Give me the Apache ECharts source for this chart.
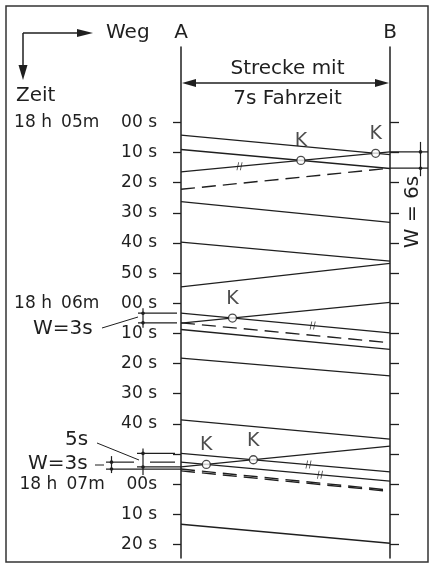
<!DOCTYPE html>
<html><head><meta charset="utf-8">
<script src="https://cdn.jsdelivr.net/npm/echarts@6.0.0/dist/echarts.min.js"></script>
<style>html,body{margin:0;padding:0;background:#fff}#c{width:433px;height:565px}</style>
</head><body><div id="c"></div>
<script>
// Stations (x positions 0 = A, 1 = B)
const stations = ['A', 'B'];
// time ticks (seconds after 18:05:00)
const tickTimes = [0,10,20,30,40,50,60,70,80,90,100,110,120,130,140];
const labelTimes = [0,10,20,30,40,50,60,70,80,90,100,120,130,140];
const labelTexts = ['18 h  05m  00 s','10 s','20 s','30 s','40 s','50 s','18 h  06m  00 s','10 s','20 s','30 s','40 s','18 h  07m  00s','10 s','20 s'];
// trains: [time at A, time at B] in seconds
const solidTrains = [
  [4.2, 10.7], [9.0, 15.3], [16.4, 9.8], [26.3, 33.2], [39.7, 46.0], [54.6, 46.8],
  [66.6, 59.7], [63.3, 69.8], [68.7, 75.3], [78.2, 84.1], [98.7, 105.1],
  [114.3, 107.4], [109.8, 115.9], [112.7, 119.0], [133.3, 139.6]
];
const dashedTrains = [[22.2, 15.2], [66.5, 73.1], [115.0, 122.0], [115.6, 122.4]];
// crossings (K) between solid trains [i, j]
const crossings = [[0, 2], [1, 2], [7, 6], [12, 11], [13, 11]];
// hash marks: [solid train index, fraction of way A->B]
const hashMarks = [[2, 0.28], [7, 0.63], [12, 0.61], [13, 0.665]];

const INK = '#1f1f1f';
const FONT = 'DejaVu Sans';

function tAt(tr, x) { return tr[0] + (tr[1] - tr[0]) * x; }
function cross(a, b) {
  const x = (b[0] - a[0]) / ((a[1] - a[0]) - (b[1] - b[0]));
  return [x, tAt(a, x)];
}

const series = [];
solidTrains.forEach(tr => series.push({
  type: 'line', data: [[0, tr[0]], [1, tr[1]]], symbol: 'none', silent: true,
  lineStyle: { color: INK, width: 1.3 }
}));
dashedTrains.forEach(tr => series.push({
  type: 'line', data: [[0, tr[0]], [1, tr[1]]], symbol: 'none', silent: true,
  lineStyle: { color: INK, width: 1.4, type: [14, 7] }
}));
series.push({
  type: 'scatter', silent: true, z: 5,
  data: crossings.map(c => cross(solidTrains[c[0]], solidTrains[c[1]])),
  symbol: 'circle', symbolSize: 8,
  itemStyle: { color: '#fff', borderColor: INK, borderWidth: 1.3 },
  label: { show: true, formatter: 'K', position: 'top', distance: 5, fontSize: 19, fontFamily: FONT, color: INK }
});
series.push({
  type: 'scatter', silent: true, z: 5,
  data: hashMarks.map(h => [h[1], tAt(solidTrains[h[0]], h[1])]),
  symbol: 'path://M2,0 L3,0 L1,10 L0,10 Z M6,0 L7,0 L5,10 L4,10 Z', symbolSize: [6, 8],
  itemStyle: { color: INK }
});

function fmt(v) {
  const i = labelTimes.indexOf(Math.round(v));
  if (i < 0) return '';
  const p = labelTexts[i].split('  ');
  if (p.length === 3) return '{h|' + p[0] + '}{m|' + p[1] + '}{s|' + p[2] + '}';
  return '{s|' + labelTexts[i] + '}';
}
const lblStyle = { fontSize: 17, fontFamily: FONT, color: INK, align: 'left' };

const chart = echarts.init(document.getElementById('c'), null, { renderer: 'canvas' });
const yBase = { type: 'value', inverse: true, min: -25, max: 144.5, splitLine: { show: false } };
chart.setOption({
  animation: false,
  backgroundColor: '#fff',
  grid: { left: 181, right: 43, top: 47, bottom: 7 },
  xAxis: {
    type: 'value', min: 0, max: 1, position: 'top',
    axisLine: { show: false }, axisTick: { show: false }, splitLine: { show: false },
    axisLabel: { customValues: [0, 1], formatter: v => stations[Math.round(v)], fontSize: 20, fontFamily: FONT, color: INK, margin: 4 }
  },
  yAxis: [
    Object.assign({}, yBase, {
      position: 'left',
      axisLine: { show: true, lineStyle: { color: INK, width: 1.5 } },
      axisTick: { show: true, customValues: tickTimes, length: 8, lineStyle: { color: INK, width: 1.3 } },
      axisLabel: { customValues: labelTimes, formatter: fmt, margin: 24,
        rich: { h: Object.assign({ width: 47 }, lblStyle), m: Object.assign({ width: 60 }, lblStyle), s: lblStyle } }
    }),
    Object.assign({}, yBase, {
      position: 'right',
      axisLine: { show: true, lineStyle: { color: INK, width: 1.5 } },
      axisTick: { show: true, customValues: tickTimes, length: 9, lineStyle: { color: INK, width: 1.3 } },
      axisLabel: { show: false }
    })
  ],
  series: series
});

// annotations positioned from the data scales
const P = (x, t) => chart.convertToPixel({ gridIndex: 0 }, [x, t]);
const xA = P(0, 0)[0], xB = P(1, 0)[0];
const Y = t => P(0, t)[1];
const g = [];
const line = (x1, y1, x2, y2, w) => g.push({ type: 'line', shape: { x1, y1, x2, y2 }, style: { stroke: INK, lineWidth: w || 1.2 }, silent: true });
const poly = pts => g.push({ type: 'polygon', shape: { points: pts }, style: { fill: INK }, silent: true });
const text = (x, y, s, size, align, rot) => g.push({ type: 'text', x, y, rotation: rot || 0, style: { text: s, fontSize: size, fontFamily: FONT, fill: INK, align: align || 'left', verticalAlign: 'middle' }, silent: true });
const dot = (x, y) => g.push({ type: 'circle', shape: { cx: x, cy: y, r: 1.8 }, style: { fill: INK }, silent: true });

// frame
g.push({ type: 'rect', shape: { x: 6, y: 6, width: 422, height: 556 }, style: { fill: 'none', stroke: '#333', lineWidth: 1.5 }, silent: true });
// Weg / Zeit arrows
line(23, 33, 80, 33, 1.5); poly([[93, 33], [77, 29], [77, 37]]);
line(23, 33, 23, 68, 1.5); poly([[23, 80], [18.5, 65], [27.5, 65]]);
text(106, 33, 'Weg', 20);
text(16, 96, 'Zeit', 20);
// Strecke arrow
line(xA + 10, 83, xB - 10, 83, 1.3);
poly([[xA + 1, 83], [xA + 15, 79], [xA + 15, 87]]);
poly([[xB - 1, 83], [xB - 15, 79], [xB - 15, 87]]);
text((xA + xB) / 2 + 2, 69, 'Strecke mit', 20, 'center');
text((xA + xB) / 2 + 2, 99, '7s Fahrzeit', 20, 'center');

// W = 6s bracket on right (between train 3 leaving B and dashed leaving B)
const w1 = Y(solidTrains[2][1]), w2 = Y(dashedTrains[0][1]);
line(xB, w1, 428, w1); line(xB, w2, 428, w2);
line(420.5, w1 - 10, 420.5, w2 + 8);
dot(420.5, w1); dot(420.5, w2);
text(413, 212, 'W = 6s', 20, 'center', Math.PI / 2);

// W = 3s at 18h06m (train 8 leaving A, dashed leaving A)
const a1 = Y(solidTrains[7][0]), a2 = Y(dashedTrains[1][0]);
line(138, a1, xA - 4, a1); line(138, a2, xA - 4, a2);
line(143, a1 - 5, 143, a2 + 5);
dot(143, a1); dot(143, a2);
text(33, 329, 'W=3s', 20);
line(102, 328, 138, 317, 1);

// 5s and W = 3s at 18h07m
const b1 = Y(solidTrains[12][0]), b2 = Y(solidTrains[11][0]);
line(137, b1, 175, b1); line(137, b2, xA, b2);
line(143, b1 - 5, 143, b2 + 8);
dot(143, b1); dot(143, b2);
text(65, 440, '5s', 20);
line(97, 443, 139, 460, 1);
const c1 = Y(solidTrains[13][0]), c2 = Y(dashedTrains[2][0]);
line(106, c1, 134, c1); line(150, c1, 175, c1);
line(106, c2, xA, c2);
line(111.5, c1 - 6, 111.5, c2 + 4);
dot(111.5, c1); dot(111.5, c2);
text(28, 464, 'W=3s', 20);
line(95, 465, 104, 465, 1);

chart.setOption({ graphic: g });
</script>
</body></html>
